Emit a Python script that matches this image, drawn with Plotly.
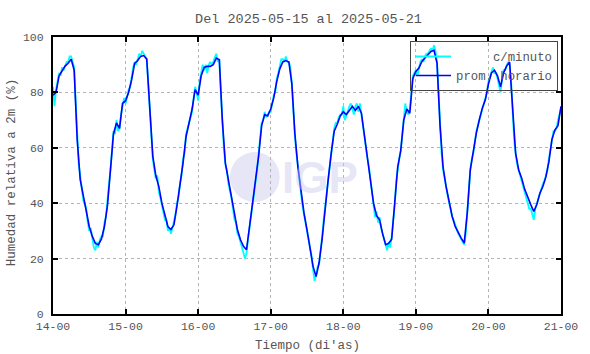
import pandas as pd
import plotly.graph_objects as go

# hourly mean relative humidity (%), one value per hour from 2025-05-14 00:00
day14 = [79, 80, 86, 88, 89.5, 90.5, 92, 88, 63, 48.5, 42.5, 37.5, 31.5, 28, 25.5, 25, 27, 31.5, 39, 52, 65, 69, 67, 76]
day15 = [77, 80, 84.5, 90.5, 91.5, 93, 93.3, 92, 75, 57, 50, 46, 40, 35.3, 31.6, 30.5, 32.2, 39, 46, 54.5, 64, 69, 74, 81]
day16 = [79, 86, 89, 89.4, 89.4, 90, 92.4, 91.8, 70, 54.5, 48.5, 41.3, 35.3, 30.4, 26.8, 24.4, 23.2, 31.6, 40, 48.5, 57, 68, 72, 71.5]
day17 = [74, 78, 84, 88.5, 91, 91.5, 91, 83, 65, 53, 43.7, 36.5, 30.4, 24.4, 17.2, 13.5, 18.5, 27, 39, 48.5, 58, 66, 68.5, 71.5]
day18 = [73, 72, 73.5, 75, 73.5, 75, 72.5, 64, 57, 49, 40, 35.5, 34, 29, 25, 25.5, 27, 40, 53, 59, 70, 74, 72.5, 85]
day19 = [87.6, 88.8, 91.2, 92.4, 93.6, 94.8, 95.2, 90.6, 68, 53, 46, 40, 35.3, 31.6, 29.2, 27.4, 25.6, 36.5, 52, 59.3, 65.3, 70.2, 74.4, 77.4]
day20 = [83, 87, 88, 86, 82, 87, 89.5, 91, 75, 58, 52, 49, 45, 42, 39.5, 37, 39.5, 43.5, 46, 49.5, 55, 63, 66.5, 68]
hourly_end = [75]

# higher-resolution (c/minuto) readings, sampled every 30 minutes
min14 = [82, 75, 81, 84, 87, 86, 89, 88, 90, 91, 91, 93, 93, 91, 89, 77, 62, 54, 50, 44, 41, 40, 38, 33,
         30, 31, 27, 24, 23, 26, 24, 27, 28, 28, 33, 35, 41, 46, 52, 59, 66, 65, 70, 66, 67, 72, 76, 78]
min15 = [76, 79, 81, 82, 86, 89, 91, 90, 92, 94, 93, 95, 94, 93, 92, 83, 73, 66, 56, 52, 49, 50, 44, 42,
         39, 36, 34, 34, 30, 31, 29, 31, 33, 36, 40, 42, 47, 50, 56, 58, 65, 67, 70, 72, 73, 78, 82, 80]
min16 = [77, 84, 88, 90, 88, 90, 87, 90, 91, 90, 91, 93, 94, 91, 92, 80, 69, 60, 54, 52, 47, 45, 42, 38,
         34, 33, 29, 28, 26, 25, 22, 20, 22, 27, 31, 36, 40, 44, 49, 52, 58, 63, 69, 70, 73, 71, 72, 73]
min17 = [73, 77, 79, 80, 85, 87, 89, 92, 92, 91, 93, 91, 91, 89, 83, 73, 64, 58, 53, 48, 44, 39, 36, 33,
         30, 28, 24, 21, 16, 12, 14, 17, 18, 22, 28, 34, 39, 44, 49, 53, 58, 63, 67, 69, 69, 71, 72, 72]
min18 = [75, 70, 72, 74, 75, 76, 74, 72, 75, 76, 73, 76, 72, 68, 63, 60, 56, 53, 48, 44, 39, 35, 37, 33,
         35, 31, 29, 27, 24, 23, 26, 24, 28, 33, 39, 48, 53, 56, 59, 64, 71, 76, 73, 72, 74, 80, 86, 87]
min19 = [88, 86, 89, 91, 92, 91, 93, 94, 94, 95, 96, 95, 97, 95, 91, 80, 66, 58, 52, 49, 45, 43, 40, 38,
         35, 34, 32, 30, 29, 28, 27, 26, 25, 29, 37, 44, 52, 56, 58, 62, 66, 68, 70, 72, 75, 76, 78, 80]
min20 = [84, 86, 88, 89, 87, 87, 85, 83, 80, 85, 88, 88, 90, 91, 90, 84, 73, 63, 58, 54, 52, 50, 47, 46,
         43, 42, 40, 38, 38, 36, 34, 38, 40, 42, 44, 45, 47, 48, 50, 52, 56, 60, 64, 66, 66, 67, 70, 72]
minute_end = [74]

legend_names = ["c/minuto", "prom. horario"]
x_tick_format = "%d-%H"
title_text = "Del 2025-05-15 al 2025-05-21"
x_title = "Tiempo (di'as)"
y_title = "Humedad relativa a 2m (%)"

hourly = day14 + day15 + day16 + day17 + day18 + day19 + day20 + hourly_end
minute = min14 + min15 + min16 + min17 + min18 + min19 + min20 + minute_end
t_hour = pd.date_range("2025-05-14 00:00", periods=len(hourly), freq="h")
t_min = pd.date_range("2025-05-14 00:00", periods=len(minute), freq="30min")

FONT = "Liberation Mono, Courier New, monospace"
TXT = "#555555"

fig = go.Figure()
fig.add_trace(go.Scatter(x=t_min, y=minute, mode="lines", name="\u00a0" * 5 + legend_names[0],
                         line=dict(color="#00ffff", width=1.8)))
fig.add_trace(go.Scatter(x=t_hour, y=hourly, mode="lines", name=legend_names[1],
                         line=dict(color="#0000ff", width=1.6)))

axis_common = dict(showline=True, linecolor="black", linewidth=2, mirror="allticks",
                   ticks="inside", ticklen=5, tickwidth=1.5, tickcolor="black",
                   showgrid=True, gridcolor="#b4b4b4", griddash="dot", gridwidth=1,
                   zeroline=False, tickfont=dict(family=FONT, size=11.5, color=TXT))

fig.update_xaxes(range=[t_hour[0], t_hour[-1]], dtick=86400000, tickformat=x_tick_format,
                 **axis_common)
fig.update_yaxes(range=[0, 100], dtick=20, ticklabelstandoff=5, **axis_common)

fig.update_layout(
    width=590, height=354,
    margin=dict(l=53, r=26, t=37, b=40),
    paper_bgcolor="white", plot_bgcolor="white",
    title=dict(text=title_text, x=(53 + 564) / 2 / 590, xanchor="center",
               y=1 - 18 / 354, yanchor="middle",
               font=dict(family=FONT, size=13.5, color=TXT)),
    showlegend=True,
    legend=dict(x=(561 - 53) / 511, xanchor="right", y=(314 - 41) / 277, yanchor="top",
                bordercolor="#444444", borderwidth=1, bgcolor="rgba(255,255,255,0)",
                font=dict(family=FONT, size=12.3, color=TXT),
                tracegroupgap=0, itemwidth=35),
    annotations=[
        dict(text=x_title, xref="paper", yref="paper", x=0.5, y=-(346 - 314) / 277,
             xanchor="center", yanchor="middle", showarrow=False,
             font=dict(family=FONT, size=12.5, color=TXT)),
        dict(text=y_title, xref="paper", yref="paper", x=(12 - 53) / 511, y=(314 - 172) / 277,
             xanchor="center", yanchor="middle", textangle=-90, showarrow=False,
             font=dict(family=FONT, size=12.5, color=TXT)),
        dict(text="<b>IGP</b>", xref="paper", yref="paper", x=(322 - 53) / 511, y=(314 - 177) / 277,
             xanchor="center", yanchor="middle", showarrow=False,
             font=dict(family="Liberation Sans, Arial", size=44, color="rgba(200,200,235,0.45)")),
    ],
    shapes=[
        dict(type="circle", xref="paper", yref="paper", layer="below",
             x0=(231 - 53) / 511, x1=(281 - 53) / 511, y0=(314 - 202) / 277, y1=(314 - 152) / 277,
             fillcolor="#e6e6f6", line=dict(width=0)),
    ],
)

fig.write_html("out.html")
